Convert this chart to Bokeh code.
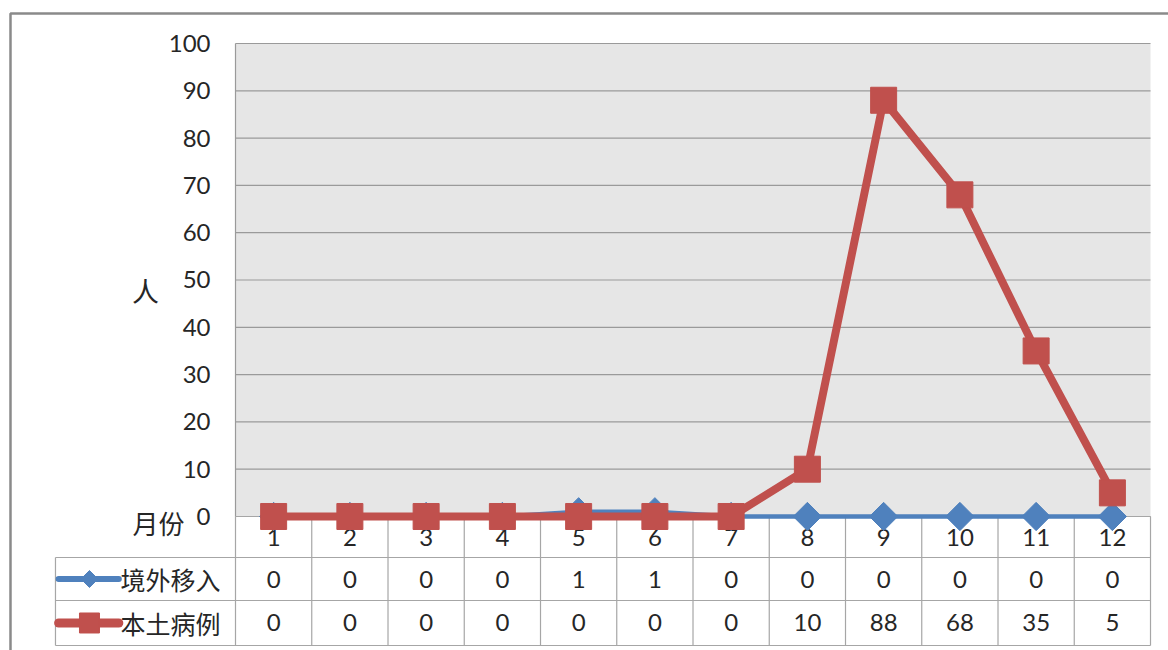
import math
from bokeh.plotting import figure
from bokeh.models import Range1d, ColumnDataSource
from bokeh.core.properties import value
from bokeh.embed import file_html
from bokeh.resources import INLINE

# ---- data ----
months = [1, 2, 3, 4, 5, 6, 7, 8, 9, 10, 11, 12]
month_labels = ["1", "2", "3", "4", "5", "6", "7", "8", "9", "10", "11", "12"]
imported = [0, 0, 0, 0, 1, 1, 0, 0, 0, 0, 0, 0]          # 境外移入
local = [0, 0, 0, 0, 0, 0, 0, 10, 88, 68, 35, 5]          # 本土病例
series_names = ["境外移入", "本土病例"]
y_ticks = [0, 10, 20, 30, 40, 50, 60, 70, 80, 90, 100]
y_title = "人"
x_title = "月份"

BLUE = "#4F81BD"
RED = "#C0504D"
GRID = "#9A9A9A"
TABLE = "#A6A6A6"
TXT = "#262626"
NUM_FONT = value("Lato")
CJK_FONT = value("Noto Sans CJK SC")

# layout constants (data units)
x_lo, x_hi = 0.5, 12.5
row1_top, row2_top, table_bot = -8.67, -17.76, -27.27
label_y = (0 + row1_top) / 2
r1_y = (row1_top + row2_top) / 2
r2_y = (row2_top + table_bot) / 2
legend_left = -1.861

p = figure(width=1168, height=650,
           x_range=Range1d(-2.582, 12.736), y_range=Range1d(-28.33, 109.09),
           output_backend="svg", toolbar_location=None, min_border=0,
           x_axis_location=None, y_axis_location=None)
p.outline_line_color = None
p.grid.visible = False
p.background_fill_color = "white"
p.border_fill_color = "white"

# outer chart border
p.quad(left=[-2.451], right=[13.5], bottom=[-40], top=[106.34],
       fill_color=None, line_color="#8A8A8A", line_width=2.5)

# plot area
p.quad(left=[x_lo], right=[x_hi], bottom=[0], top=[100],
       fill_color="#E6E6E6", line_color=None)
p.segment(x0=[x_lo] * len(y_ticks), x1=[x_hi] * len(y_ticks), y0=y_ticks, y1=y_ticks,
          line_color=GRID, line_width=1.2)
p.segment(x0=[x_lo], x1=[x_lo], y0=[0], y1=[100], line_color=GRID, line_width=1.2)

# y tick labels
p.text(x=[0.172] * len(y_ticks), y=y_ticks, text=[str(t) for t in y_ticks],
       text_align="right", text_baseline="middle", text_font=NUM_FONT,
       text_font_size="24px", text_color=TXT)
p.text(x=[-0.68], y=[47.8], text=[y_title], text_align="center", text_baseline="middle",
       text_font=CJK_FONT, text_font_size="27px", text_color=TXT)
p.text(x=[-0.51], y=[-1.3], text=[x_title], text_align="center", text_baseline="middle",
       text_font=CJK_FONT, text_font_size="26px", text_color=TXT)

# data table grid
bounds = [m - 0.5 for m in months] + [months[-1] + 0.5]
p.segment(x0=bounds, x1=bounds, y0=[0] * len(bounds), y1=[table_bot] * len(bounds),
          line_color=TABLE, line_width=1.2)
p.segment(x0=[x_lo, legend_left, legend_left, legend_left],
          x1=[x_hi, x_hi, x_hi, x_hi],
          y0=[0, row1_top, row2_top, table_bot],
          y1=[0, row1_top, row2_top, table_bot],
          line_color=TABLE, line_width=1.2)
p.segment(x0=[legend_left], x1=[legend_left], y0=[row1_top], y1=[table_bot],
          line_color=TABLE, line_width=1.2)

# category labels and table values
p.text(x=months, y=[label_y] * 12, text=month_labels, text_align="center",
       text_baseline="middle", text_font=NUM_FONT, text_font_size="24px", text_color=TXT)
p.text(x=months, y=[r1_y] * 12, text=[str(v) for v in imported], text_align="center",
       text_baseline="middle", text_font=NUM_FONT, text_font_size="24px", text_color=TXT)
p.text(x=months, y=[r2_y] * 12, text=[str(v) for v in local], text_align="center",
       text_baseline="middle", text_font=NUM_FONT, text_font_size="24px", text_color=TXT)

# legend keys in table
p.segment(x0=[-1.82], x1=[-1.03], y0=[r1_y], y1=[r1_y], line_color=BLUE, line_width=6,
          line_cap="round")
p.scatter(x=[-1.415], y=[r1_y], marker="square", angle=math.pi / 4, size=12,
          fill_color=BLUE, line_color=BLUE)
p.segment(x0=[-1.82], x1=[-1.03], y0=[r2_y], y1=[r2_y], line_color=RED, line_width=9,
          line_cap="round")
p.scatter(x=[-1.415], y=[r2_y], marker="square", size=20, fill_color=RED, line_color=RED)
p.text(x=[-1.008, -1.008], y=[r1_y, r2_y], text=series_names, text_align="left",
       text_baseline="middle", text_font=CJK_FONT, text_font_size="25px", text_color=TXT)

# series
src = ColumnDataSource(dict(x=months, a=imported, b=local))
p.line("x", "a", source=src, line_color=BLUE, line_width=4.5)
p.scatter("x", "a", source=src, marker="square", angle=math.pi / 4, size=20,
          fill_color=BLUE, line_color=BLUE)
p.line("x", "b", source=src, line_color=RED, line_width=8)
p.scatter("x", "b", source=src, marker="square", size=26, fill_color=RED, line_color=RED)

open("out.html", "w").write(file_html(p, INLINE))
